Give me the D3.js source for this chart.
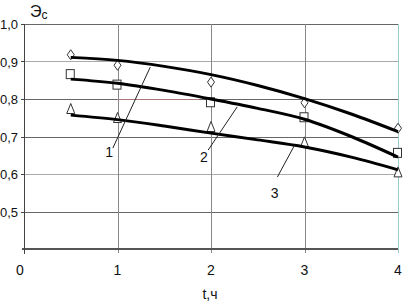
<!DOCTYPE html>
<html><head><meta charset="utf-8">
<script src="https://cdn.jsdelivr.net/npm/d3@7"></script>
<style>body{margin:0;background:#fff}svg{display:block}text{font-family:"Liberation Sans",Arial,sans-serif;fill:#111}</style>
</head><body><svg id="c" width="405" height="303"></svg>
<script>
const xTicks = [0, 1, 2, 3, 4];
const yTicks = [0.5, 0.6, 0.7, 0.8, 0.9, 1.0];
const yTickLabels = ["0,5", "0,6", "0,7", "0,8", "0,9", "1,0"];
const markerX = [0.5, 1, 2, 3, 4];
const diamonds = [0.918, 0.89, 0.845, 0.79, 0.722];
const squares = [0.865, 0.837, 0.79, 0.75, 0.655];
const triangles = [0.772, 0.748, 0.724, 0.683, 0.603];
const curveX = [0.5, 1, 1.5, 2, 2.5, 3, 3.5, 4];
const curve1 = [0.911, 0.903, 0.887, 0.865, 0.836, 0.801, 0.76, 0.713];
const curve2 = [0.853, 0.842, 0.823, 0.8, 0.775, 0.746, 0.70, 0.645];
const curve3 = [0.757, 0.745, 0.728, 0.709, 0.691, 0.672, 0.645, 0.611];
const labels = ["1", "2", "3"];
const labelPos = [[0.91, 0.645], [1.925, 0.632], [2.68, 0.535]];
const leaders = [[[0.95, 0.669], [1.35, 0.885]], [[1.97, 0.664], [2.28, 0.779]], [[2.71, 0.592], [2.89, 0.675]]];

const svg = d3.select("#c");
const x = d3.scaleLinear().domain([0, 4]).range([24, 398]);
const y = d3.scaleLinear().domain([0.4, 1.0]).range([249, 24]);

// horizontal grid
svg.append("g").selectAll("line").data(yTicks).join("line")
  .attr("x1", x(0)).attr("x2", x(4))
  .attr("y1", d => Math.round(y(d)) + 0.5).attr("y2", d => Math.round(y(d)) + 0.5)
  .attr("stroke", (d, i) => (i === 1 || i === 4) ? "#aaa" : "#666").attr("stroke-width", 1);
// red dotted segment on 0.8
svg.append("line").attr("x1", x(1)).attr("x2", x(1.88))
  .attr("y1", Math.round(y(0.8)) + 0.5).attr("y2", Math.round(y(0.8)) + 0.5)
  .attr("stroke", "#e88").attr("stroke-dasharray", "1,1");
// vertical grid
svg.append("g").selectAll("line").data(xTicks.slice(1)).join("line")
  .attr("x1", d => Math.round(x(d)) + 0.5).attr("x2", d => Math.round(x(d)) + 0.5)
  .attr("y1", y(1.0)).attr("y2", y(0.4) + 4)
  .attr("stroke", d => d === 4 ? "#9cc" : "#888").attr("stroke-width", 1);

// axes
svg.append("line").attr("x1", x(0) - 2).attr("x2", x(4)).attr("y1", y(0.4)).attr("y2", y(0.4))
  .attr("stroke", "#555").attr("stroke-width", 2);
svg.append("line").attr("x1", x(0) + 0.5).attr("x2", x(0) + 0.5).attr("y1", y(1.0)).attr("y2", y(0.4) + 5)
  .attr("stroke", "#444").attr("stroke-width", 1);
svg.append("g").selectAll("line").data(yTicks).join("line")
  .attr("x1", x(0) - 3).attr("x2", x(0))
  .attr("y1", d => Math.round(y(d)) + 0.5).attr("y2", d => Math.round(y(d)) + 0.5)
  .attr("stroke", "#444");

// tick labels
svg.append("g").selectAll("text").data(yTicks).join("text")
  .attr("x", 18).attr("y", d => y(d) + 5).attr("text-anchor", "end")
  .attr("font-size", 13).text((d, i) => yTickLabels[i]);
svg.append("g").selectAll("text").data(xTicks).join("text")
  .attr("x", d => x(d) - (d === 0 ? 4 : 0)).attr("y", 275).attr("text-anchor", "middle")
  .attr("font-size", 14).text(d => d);

// axis titles
const t = svg.append("text").attr("x", 30).attr("y", 17).attr("font-size", 16);
t.append("tspan").text("Э");
t.append("tspan").attr("font-size", 12).attr("dy", 2).text("с");
svg.append("text").attr("x", 210).attr("y", 299).attr("text-anchor", "middle").attr("font-size", 14).text("t,ч");

// markers (drawn beneath curves)
const mk = svg.append("g").attr("fill", "#fff").attr("stroke", "#333").attr("stroke-width", 1);
markerX.forEach((v, i) => {
  const cx = x(v), cy = y(diamonds[i]);
  mk.append("path").attr("d", `M${cx},${cy - 5}L${cx + 3.5},${cy}L${cx},${cy + 5}L${cx - 3.5},${cy}Z`);
  const sx = x(v), sy = y(squares[i]);
  mk.append("rect").attr("x", sx - 4.5).attr("y", sy - 5).attr("width", 8).attr("height", 9);
  const tx = x(v), ty = y(triangles[i]);
  mk.append("path").attr("d", `M${tx},${ty - 6}L${tx + 4},${ty + 4}L${tx - 4},${ty + 4}Z`);
});

// curves
const line = d3.line().x(d => x(d[0])).y(d => y(d[1])).curve(d3.curveMonotoneX);
[curve1, curve2, curve3].forEach(c => {
  svg.append("path").attr("d", line(curveX.map((v, i) => [v, c[i]])))
    .attr("fill", "none").attr("stroke", "#000").attr("stroke-width", 3);
});

// leaders and labels
svg.append("g").selectAll("line").data(leaders).join("line")
  .attr("x1", d => x(d[0][0])).attr("y1", d => y(d[0][1]))
  .attr("x2", d => x(d[1][0])).attr("y2", d => y(d[1][1]))
  .attr("stroke", "#222").attr("stroke-width", 1);
svg.append("g").selectAll("text").data(labels).join("text")
  .attr("x", (d, i) => x(labelPos[i][0])).attr("y", (d, i) => y(labelPos[i][1]))
  .attr("text-anchor", "middle").attr("font-size", 14).text(d => d);
</script></body></html>
